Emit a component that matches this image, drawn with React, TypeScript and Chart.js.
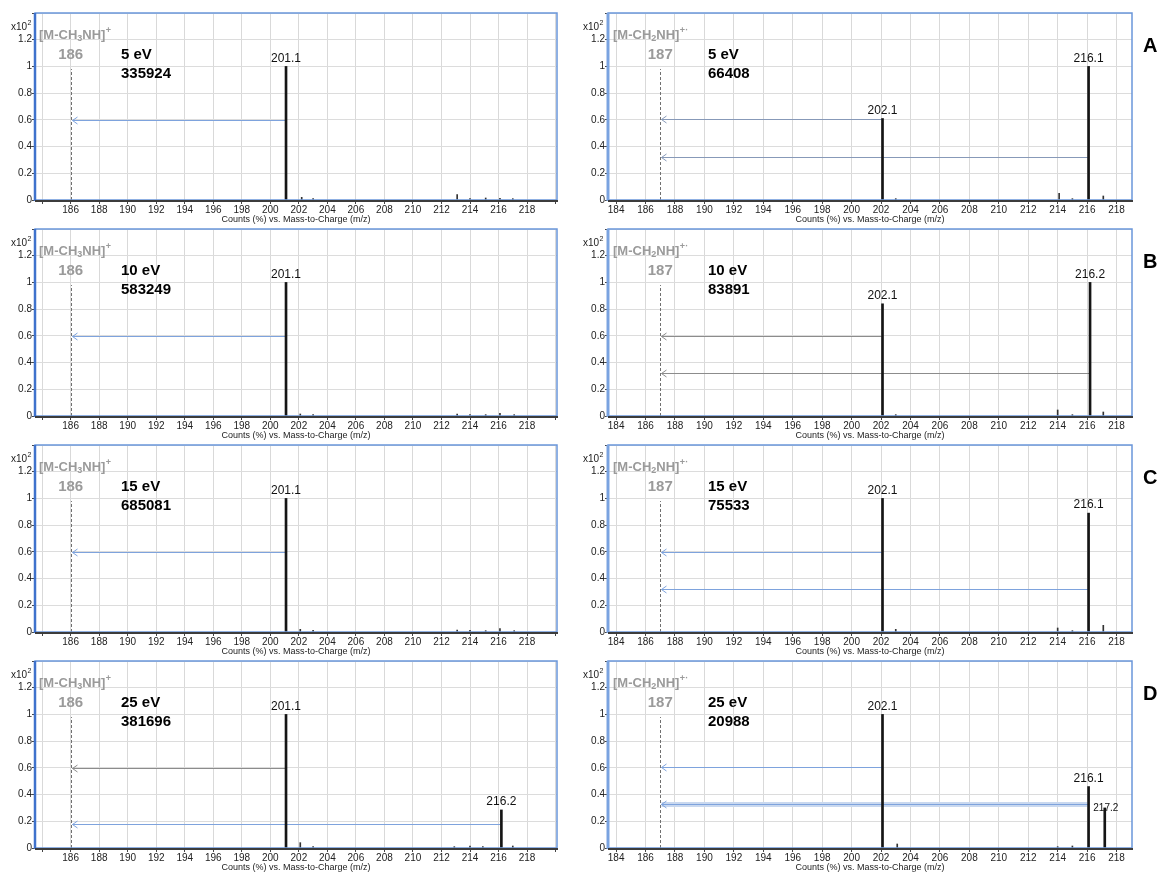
import React, { useEffect, useRef } from 'react';
import { Chart, registerables } from 'chart.js';
Chart.register(...registerables);

const FONT = '"Liberation Sans", Arial, Helvetica, sans-serif';

// ---------- data ----------
const rowLetters = ['A', 'B', 'C', 'D'];
const collisionEnergies = ['5 eV', '10 eV', '15 eV', '25 eV'];
const leftTotalCounts = ['335924', '583249', '685081', '381696'];
const rightTotalCounts = ['66408', '83891', '75533', '20988'];

const leftFragment = 186;
const rightFragment = 187;
const leftIonLabel = ['[M-CH', '3', 'NH]', '+'];
const rightIonLabel = ['[M-CH', '2', 'NH]', '+·'];

const axisTitle = 'Counts (%) vs. Mass-to-Charge (m/z)';
const leftXTicks = [184, 186, 188, 190, 192, 194, 196, 198, 200, 202, 204, 206, 208, 210, 212, 214, 216, 218, 220];
const leftXLabels = [186, 188, 190, 192, 194, 196, 198, 200, 202, 204, 206, 208, 210, 212, 214, 216, 218];
const rightXTicks = [184, 186, 188, 190, 192, 194, 196, 198, 200, 202, 204, 206, 208, 210, 212, 214, 216, 218];
const rightXLabels = [184, 186, 188, 190, 192, 194, 196, 198, 200, 202, 204, 206, 208, 210, 212, 214, 216, 218];
const yTicks = [0, 0.1, 0.2, 0.3, 0.4, 0.5, 0.6, 0.7, 0.8, 0.9, 1.0, 1.1, 1.2, 1.3, 1.4];
const yLabels = ['0', '0.2', '0.4', '0.6', '0.8', '1', '1.2'];

// left column: loss of CH3NH
const leftPeakMz = [[201.1], [201.1], [201.1], [201.1, 216.2]];
const leftPeakInt = [[1.0], [1.0], [1.0], [1.0, 0.285]];
const leftPeakLabel = [['201.1'], ['201.1'], ['201.1'], ['201.1', '216.2']];
const leftArrowY = [[0.6], [0.6], [0.6], [0.6, 0.18]];
const leftArrowColor = [['blue'], ['blue'], ['blue'], ['gray', 'blue']];
const leftMinorMz = [
  [202.2, 203.0, 213.1, 214.0, 215.1, 216.1, 217.0],
  [202.1, 203.0, 213.1, 214.0, 215.1, 216.1, 217.1],
  [202.1, 203.0, 213.1, 214.0, 215.1, 216.1, 217.1],
  [202.1, 203.0, 212.9, 214.0, 214.9, 217.0],
];
const leftMinorInt = [
  [0.02, 0.01, 0.04, 0.01, 0.015, 0.012, 0.01],
  [0.015, 0.01, 0.015, 0.01, 0.01, 0.02, 0.01],
  [0.02, 0.012, 0.015, 0.012, 0.01, 0.025, 0.01],
  [0.04, 0.01, 0.01, 0.015, 0.01, 0.015],
];

// right column: loss of CH2NH
const rightPeakMz = [[202.1, 216.1], [202.1, 216.2], [202.1, 216.1], [202.1, 216.1, 217.2]];
const rightPeakInt = [[0.61, 1.0], [0.84, 1.0], [1.0, 0.89], [1.0, 0.46, 0.3]];
const rightPeakLabel = [['202.1', '216.1'], ['202.1', '216.2'], ['202.1', '216.1'], ['202.1', '216.1', '217.2']];
const rightArrowY = [[0.61, 0.32], [0.6, 0.32], [0.6, 0.32], [0.61, 0.33]];
const rightArrowColor = [['steel', 'steel'], ['gray', 'gray'], ['blue', 'blue'], ['blue', 'band']];
const rightMinorMz = [
  [203.0, 214.1, 215.0, 217.1],
  [203.0, 214.0, 215.0, 217.1],
  [203.0, 214.0, 215.0, 217.1],
  [203.1, 214.0, 215.0],
];
const rightMinorInt = [
  [0.01, 0.05, 0.01, 0.03],
  [0.01, 0.045, 0.01, 0.03],
  [0.02, 0.03, 0.01, 0.05],
  [0.03, 0.01, 0.015],
];

// ---------- drawing ----------
const ROW_STEP = 216;
const CANVAS_H = 225;

const arrowColors: Record<string, string> = {
  blue: '#7ea3dd',
  gray: '#8c8c8c',
  steel: '#8799b8',
  band: '#7ea3dd',
};

type Side = 'left' | 'right';

function makePlugin(side: Side, row: number) {
  const frag = side === 'left' ? leftFragment : rightFragment;
  const ion = side === 'left' ? leftIonLabel : rightIonLabel;
  const peakMz = side === 'left' ? leftPeakMz[row] : rightPeakMz[row];
  const peakInt = side === 'left' ? leftPeakInt[row] : rightPeakInt[row];
  const peakLab = side === 'left' ? leftPeakLabel[row] : rightPeakLabel[row];
  const arrY = side === 'left' ? leftArrowY[row] : rightArrowY[row];
  const arrC = side === 'left' ? leftArrowColor[row] : rightArrowColor[row];
  const total = side === 'left' ? leftTotalCounts[row] : rightTotalCounts[row];
  const energyDx = side === 'left' ? 86 : 100;
  const ionDx = side === 'left' ? 4 : 5;
  return {
    id: 'spectrumDecor',
    beforeDatasetsDraw(chart: any) {
      const { ctx, scales } = chart;
      const x = scales.x;
      const y = scales.y;
      ctx.save();
      const fx = Math.round(x.getPixelForValue(frag)) + 0.5;
      // dashed marker line
      ctx.strokeStyle = '#707070';
      ctx.lineWidth = 1;
      ctx.setLineDash([3, 2]);
      ctx.beginPath();
      ctx.moveTo(fx, y.getPixelForValue(0));
      ctx.lineTo(fx, y.getPixelForValue(0.98));
      ctx.stroke();
      ctx.setLineDash([]);
      // arrows
      arrY.forEach((av: number, i: number) => {
        const px = x.getPixelForValue(peakMz[i]);
        const py = Math.round(y.getPixelForValue(av)) + 0.5;
        const kind = arrC[i];
        if (kind === 'band') {
          ctx.strokeStyle = '#c9d8ef';
          ctx.lineWidth = 5;
          ctx.beginPath();
          ctx.moveTo(fx + 1, py);
          ctx.lineTo(px, py);
          ctx.stroke();
        }
        ctx.strokeStyle = arrowColors[kind];
        ctx.lineWidth = 1;
        ctx.beginPath();
        ctx.moveTo(fx + 1, py);
        ctx.lineTo(px, py);
        ctx.stroke();
        ctx.beginPath();
        ctx.moveTo(fx + 6, py - 3.5);
        ctx.lineTo(fx + 1, py);
        ctx.lineTo(fx + 6, py + 3.5);
        ctx.stroke();
      });
      ctx.restore();
    },
    afterDatasetsDraw(chart: any) {
      const { ctx, chartArea: a, scales } = chart;
      const x = scales.x;
      const y = scales.y;
      ctx.save();
      // frame
      ctx.strokeStyle = '#6a96da';
      ctx.lineWidth = 1.5;
      ctx.strokeRect(a.left, a.top, a.right - a.left, a.bottom - a.top);
      ctx.strokeStyle = side === 'left' ? '#3f72cc' : '#7aa3e0';
      ctx.lineWidth = side === 'left' ? 2.5 : 3;
      ctx.beginPath();
      ctx.moveTo(a.left, a.top);
      ctx.lineTo(a.left, a.bottom + 1);
      ctx.stroke();
      ctx.strokeStyle = '#3c3c3c';
      ctx.lineWidth = 2;
      ctx.beginPath();
      ctx.moveTo(a.left, a.bottom + 1);
      ctx.lineTo(a.right + 1, a.bottom + 1);
      ctx.stroke();

      // x10^2
      ctx.fillStyle = '#222';
      ctx.textBaseline = 'middle';
      ctx.textAlign = 'left';
      ctx.font = `10px ${FONT}`;
      const xl = a.left - (side === 'left' ? 24 : 25);
      ctx.fillText('x10', xl, a.top + 14);
      const w10 = ctx.measureText('x10').width;
      ctx.font = `7px ${FONT}`;
      ctx.fillText('2', xl + w10 + 0.5, a.top + 10);

      // ion label with sub/superscripts
      ctx.fillStyle = '#9a9a9a';
      let tx = a.left + ionDx;
      const ty = a.top + 22;
      ctx.font = `bold 13px ${FONT}`;
      ctx.fillText(ion[0], tx, ty);
      tx += ctx.measureText(ion[0]).width;
      ctx.font = `bold 9px ${FONT}`;
      ctx.fillText(ion[1], tx, ty + 4);
      tx += ctx.measureText(ion[1]).width;
      ctx.font = `bold 13px ${FONT}`;
      ctx.fillText(ion[2], tx, ty);
      tx += ctx.measureText(ion[2]).width + 0.5;
      ctx.font = `bold 9px ${FONT}`;
      ctx.fillText(ion[3], tx, ty - 4);

      // fragment m/z
      ctx.font = `bold 15px ${FONT}`;
      ctx.textAlign = 'center';
      ctx.fillText(String(frag), x.getPixelForValue(frag), a.top + 42);

      // energy and total counts
      ctx.fillStyle = '#000';
      ctx.textAlign = 'left';
      ctx.fillText(collisionEnergies[row], a.left + energyDx, a.top + 42);
      ctx.fillText(total, a.left + energyDx, a.top + 61);

      // peak labels
      ctx.fillStyle = '#111';
      peakMz.forEach((mz: number, i: number) => {
        const px = x.getPixelForValue(mz);
        const py = y.getPixelForValue(peakInt[i]);
        if (peakLab[i] === '217.2') {
          ctx.font = `10px ${FONT}`;
          ctx.textAlign = 'center';
          ctx.textBaseline = 'middle';
          ctx.fillText(peakLab[i], px + 1, py);
        } else {
          ctx.font = `12px ${FONT}`;
          ctx.textAlign = 'center';
          ctx.textBaseline = 'bottom';
          ctx.fillText(peakLab[i], px, py - 2);
        }
      });
      ctx.restore();
    },
  };
}

function Spectrum({ side, row }: { side: Side; row: number }) {
  const ref = useRef<HTMLCanvasElement>(null);
  const isLeft = side === 'left';
  const canvasLeft = isLeft ? 0 : 572;
  const canvasW = isLeft ? 572 : 573;
  const yWidth = isLeft ? 35 : 36;
  const padRight = isLeft ? 15 : 13;
  const xMin = isLeft ? 183.5 : 183.45;
  const xMax = isLeft ? 220.1 : 219.05;
  const xTicks = isLeft ? leftXTicks : rightXTicks;
  const xLabels = isLeft ? leftXLabels : rightXLabels;

  useEffect(() => {
    const mainMz = isLeft ? leftPeakMz[row] : rightPeakMz[row];
    const mainInt = isLeft ? leftPeakInt[row] : rightPeakInt[row];
    const minorMz = isLeft ? leftMinorMz[row] : rightMinorMz[row];
    const minorInt = isLeft ? leftMinorInt[row] : rightMinorInt[row];
    const chart = new Chart(ref.current as HTMLCanvasElement, {
      type: 'bar',
      data: {
        datasets: [
          {
            data: minorMz.map((m, i) => ({ x: m, y: minorInt[i] })),
            backgroundColor: '#333',
            barThickness: 1,
            stack: 's',
            borderWidth: 0,
          } as any,
          {
            data: mainMz.map((m, i) => ({ x: m, y: mainInt[i] })),
            backgroundColor: '#151515',
            barThickness: 2,
            stack: 's',
            borderWidth: 0,
          } as any,
        ],
      },
      options: {
        responsive: false,
        animation: false,
        indexAxis: 'x',
        layout: { padding: { top: 13, right: padRight, left: 0, bottom: 0 } },
        plugins: { legend: { display: false }, tooltip: { enabled: false } },
        scales: {
          x: {
            type: 'linear',
            min: xMin,
            max: xMax,
            offset: false,
            afterBuildTicks: (s: any) => {
              s.ticks = xTicks.map((v) => ({ value: v }));
            },
            afterFit: (s: any) => {
              s.height = CANVAS_H - 200;
            },
            ticks: {
              autoSkip: false,
              maxRotation: 0,
              padding: 0,
              color: '#222',
              font: { family: FONT, size: 10 },
              callback: (v: any) => (xLabels.includes(Number(v)) ? String(v) : ''),
            },
            grid: { color: '#d9d9d9', lineWidth: 1, drawTicks: true, tickLength: 4, tickColor: '#444', offset: false },
            border: { display: false },
            title: {
              display: true,
              text: axisTitle,
              color: '#222',
              font: { family: FONT, size: 9 },
              padding: { top: 0, bottom: 0 },
            },
          } as any,
          y: {
            type: 'linear',
            min: 0,
            max: 1.4,
            afterBuildTicks: (s: any) => {
              s.ticks = yTicks.map((v) => ({ value: v }));
            },
            afterFit: (s: any) => {
              s.width = yWidth;
            },
            ticks: {
              padding: 0,
              color: '#222',
              font: { family: FONT, size: 10 },
              callback: (v: any) => {
                const k = Math.round(Number(v) * 10);
                if (k % 2 !== 0 || k > 12) return '';
                return yLabels[k / 2];
              },
            },
            grid: { color: '#dcdcdc', lineWidth: 1, drawTicks: true, tickLength: 3, tickColor: '#444' },
            border: { display: false },
          } as any,
        },
      },
      plugins: [makePlugin(side, row)],
    });
    return () => chart.destroy();
  }, [side, row]);

  return (
    <canvas
      ref={ref}
      width={canvasW}
      height={CANVAS_H}
      style={{ position: 'absolute', left: canvasLeft, top: row * ROW_STEP, width: canvasW, height: CANVAS_H }}
    />
  );
}

export default function App() {
  useEffect(() => {
    document.body.style.overflow = 'hidden';
    document.body.style.background = '#fff';
  }, []);
  return (
    <div>
      {rowLetters.map((letter, row) => (
        <React.Fragment key={letter}>
          <Spectrum side="left" row={row} />
          <Spectrum side="right" row={row} />
          <div
            style={{
              position: 'absolute',
              left: 1143,
              top: 35 + row * ROW_STEP,
              font: `bold 20px ${FONT}`,
              lineHeight: '20px',
              color: '#000',
            }}
          >
            {letter}
          </div>
        </React.Fragment>
      ))}
    </div>
  );
}
